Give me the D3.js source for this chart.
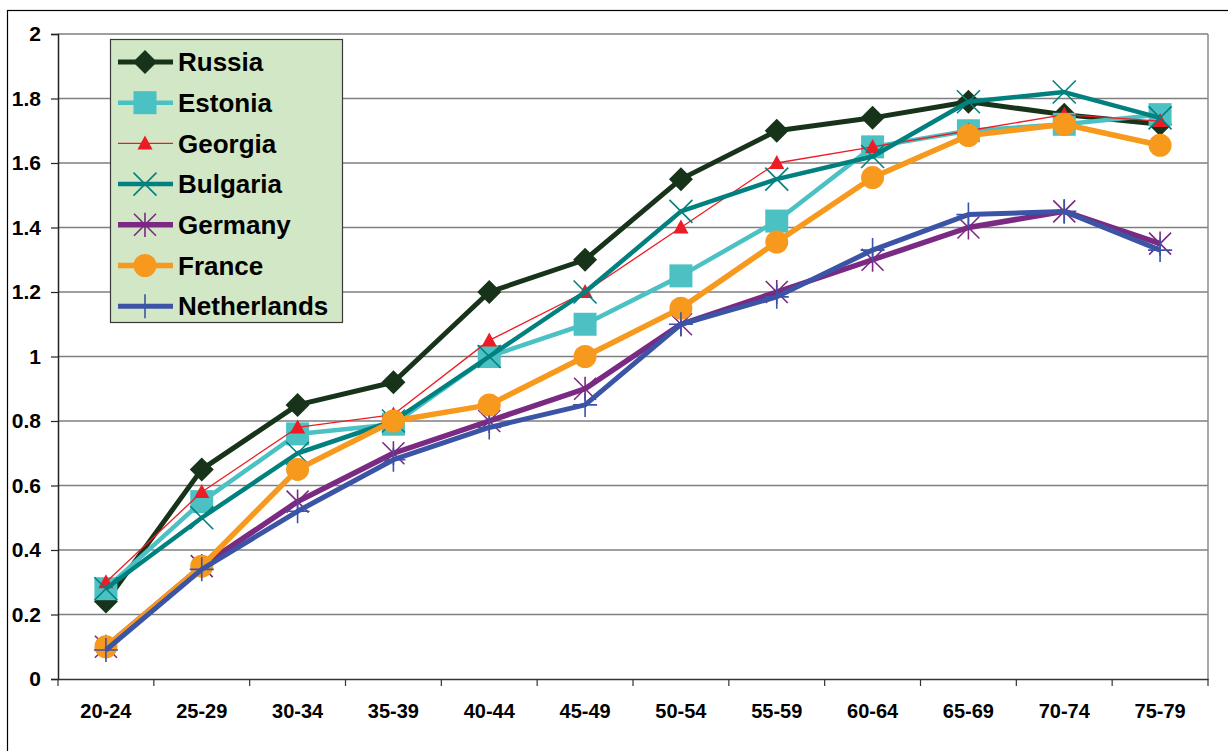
<!DOCTYPE html>
<html>
<head>
<meta charset="utf-8">
<script src="https://cdn.jsdelivr.net/npm/d3@7"></script>
<style>
  html, body { margin: 0; padding: 0; background: #fff; }
  svg { display: block; }
  text { font-family: "Liberation Sans", Arial, sans-serif; font-weight: bold; fill: #000; }
</style>
</head>
<body>
<svg id="chart" width="1228" height="751"></svg>
<script>
const categories = ["20-24","25-29","30-34","35-39","40-44","45-49","50-54","55-59","60-64","65-69","70-74","75-79"];
const yTicks = [0, 0.2, 0.4, 0.6, 0.8, 1, 1.2, 1.4, 1.6, 1.8, 2];
const seriesNames = ["Russia","Estonia","Georgia","Bulgaria","Germany","France","Netherlands"];
const russia      = [0.24, 0.65, 0.85, 0.92, 1.20, 1.30, 1.55, 1.70, 1.74, 1.79, 1.75, 1.72];
const estonia     = [0.28, 0.55, 0.76, 0.79, 1.00, 1.10, 1.25, 1.42, 1.65, 1.70, 1.72, 1.75];
const georgia     = [0.30, 0.58, 0.78, 0.82, 1.05, 1.20, 1.40, 1.60, 1.65, 1.70, 1.75, 1.73];
const bulgaria    = [0.28, 0.50, 0.70, 0.80, 1.00, 1.20, 1.45, 1.55, 1.62, 1.79, 1.82, 1.74];
const germany     = [0.10, 0.35, 0.55, 0.70, 0.80, 0.90, 1.10, 1.20, 1.30, 1.40, 1.45, 1.35];
const france      = [0.10, 0.35, 0.65, 0.80, 0.85, 1.00, 1.15, 1.355, 1.555, 1.685, 1.72, 1.655];
const netherlands = [0.09, 0.34, 0.52, 0.68, 0.78, 0.85, 1.10, 1.185, 1.33, 1.44, 1.45, 1.33];
const seriesValues = [russia, estonia, georgia, bulgaria, germany, france, netherlands];

const styles = {
  Russia:      {color: "#17341b", width: 5,   marker: "diamond"},
  Estonia:     {color: "#4bc1c4", width: 4.5, marker: "square"},
  Georgia:     {color: "#ed1c24", width: 1.3, marker: "triangle"},
  Bulgaria:    {color: "#00817f", width: 4.5, marker: "x"},
  Germany:     {color: "#7a2a82", width: 5.5, marker: "star"},
  France:      {color: "#f7991d", width: 5.5, marker: "circle"},
  Netherlands: {color: "#3b54a5", width: 5,   marker: "plus"}
};

const svg = d3.select("#chart");
const plot = {left: 58, right: 1208, top: 34, bottom: 679};

// outer chart border
svg.append("rect").attr("x", 7.5).attr("y", 10.5).attr("width", 1240).attr("height", 760)
  .attr("fill", "none").attr("stroke", "#000").attr("stroke-width", 1.2);

const x = d3.scaleBand().domain(categories).range([plot.left, plot.right]);
const y = d3.scaleLinear().domain([0, 2]).range([plot.bottom, plot.top]);

// gridlines
svg.append("g").selectAll("line").data(yTicks.filter(d => d > 0)).join("line")
  .attr("x1", plot.left).attr("x2", plot.right)
  .attr("y1", d => y(d)).attr("y2", d => y(d))
  .attr("stroke", "#7f7f7f").attr("stroke-width", 1.5);
// plot right border
svg.append("line").attr("x1", plot.right).attr("x2", plot.right).attr("y1", plot.top).attr("y2", plot.bottom)
  .attr("stroke", "#8a8a8a").attr("stroke-width", 1.5);

// y axis
const yAxis = d3.axisLeft(y).tickValues(yTicks).tickSize(7).tickPadding(10).tickFormat(d => d3.format("")(d));
const gy = svg.append("g").attr("transform", `translate(${plot.left},0)`).call(yAxis);
gy.select(".domain").attr("stroke", "#222").attr("stroke-width", 1.5);
gy.selectAll(".tick line").attr("stroke", "#222").attr("stroke-width", 1.2);
gy.selectAll(".tick text").attr("font-size", 21).attr("fill", "#000")
  .style("font-family", "'Liberation Sans', Arial, sans-serif").style("font-weight", "bold");

// x axis
const xAxis = d3.axisBottom(x).tickSize(0).tickPadding(25);
const gx = svg.append("g").attr("transform", `translate(0,${plot.bottom})`).call(xAxis);
gx.select(".domain").attr("stroke", "#333").attr("stroke-width", 1.5);
gx.selectAll(".tick text").attr("font-size", 20).attr("fill", "#000")
  .style("font-family", "'Liberation Sans', Arial, sans-serif").style("font-weight", "bold");
// x tick marks at band boundaries
const bounds = categories.map(c => x(c)).concat([x(categories[categories.length-1]) + x.bandwidth()]);
svg.append("g").selectAll("line").data(bounds).join("line")
  .attr("x1", d => d).attr("x2", d => d).attr("y1", plot.bottom).attr("y2", plot.bottom + 7)
  .attr("stroke", "#333").attr("stroke-width", 1.2);

function markerPath(type, s) {
  switch (type) {
    case "diamond": return `M0,${-s}L${s},0L0,${s}L${-s},0Z`;
    case "square": return `M${-s},${-s}H${s}V${s}H${-s}Z`;
    case "triangle": return `M0,${-s}L${s*0.95},${s*0.75}L${-s*0.95},${s*0.75}Z`;
    case "circle": return d3.arc()({innerRadius: 0, outerRadius: s, startAngle: 0, endAngle: 2*Math.PI});
    case "x": return `M${-s},${-s}L${s},${s}M${s},${-s}L${-s},${s}`;
    case "plus": return `M0,${-s}V${s}M${-s},0H${s}`;
    case "star": return `M${-s},${-s}L${s},${s}M${s},${-s}L${-s},${s}M0,${-s*1.1}V${s*1.1}`;
  }
}
const markerSize = {diamond: 12, square: 11.5, triangle: 8, circle: 11.5, x: 11.5, plus: 12, star: 11};

function drawMarker(g, type, color, cx, cy) {
  const s = markerSize[type];
  const p = g.append("path").attr("d", markerPath(type, s)).attr("transform", `translate(${cx},${cy})`);
  if (type === "x" || type === "plus" || type === "star") {
    p.attr("fill", "none").attr("stroke", color).attr("stroke-width", 1.6);
  } else {
    p.attr("fill", color).attr("stroke", "none");
  }
}

const line = d3.line().x((d, i) => x(categories[i]) + x.bandwidth()/2).y(d => y(d));

seriesNames.forEach((name, si) => {
  const st = styles[name];
  const g = svg.append("g");
  g.append("path").datum(seriesValues[si]).attr("d", line)
    .attr("fill", "none").attr("stroke", st.color).attr("stroke-width", st.width)
    .attr("stroke-linejoin", "round");
  seriesValues[si].forEach((v, i) => {
    drawMarker(g, st.marker, st.color, x(categories[i]) + x.bandwidth()/2, y(v));
  });
});

// legend
const lg = svg.append("g");
lg.append("rect").attr("x", 110.5).attr("y", 39.5).attr("width", 232).attr("height", 283)
  .attr("fill", "#d1e7c6").attr("stroke", "#3a3a3a").attr("stroke-width", 1.2);
seriesNames.forEach((name, i) => {
  const st = styles[name];
  const cy = 62 + i * 40.7;
  lg.append("line").attr("x1", 118).attr("x2", 173).attr("y1", cy).attr("y2", cy)
    .attr("stroke", st.color).attr("stroke-width", st.width);
  drawMarker(lg, st.marker, st.color, 145, cy);
  lg.append("text").attr("x", 178).attr("y", cy).attr("dy", "0.35em")
    .attr("font-size", 26).text(name);
});
</script>
</body>
</html>
